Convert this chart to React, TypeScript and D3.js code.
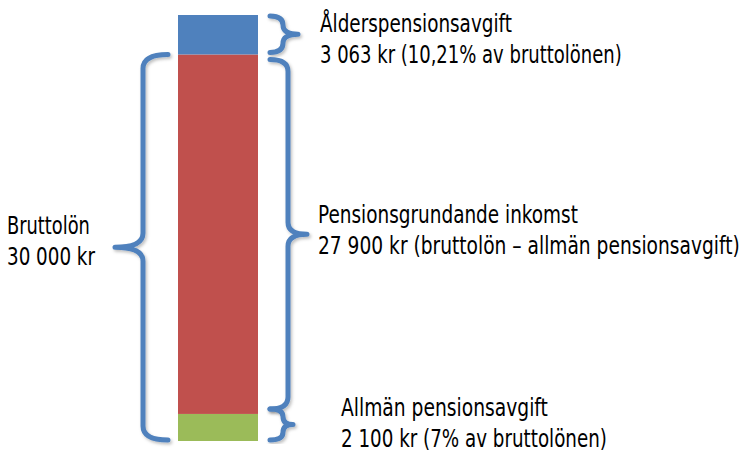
import React, { useLayoutEffect, useRef, useState } from 'react';
import * as d3 from 'd3';

// stacked segments, bottom to top
const segments = ['Allmän pensionsavgift', 'Pensionsgrundande inkomst', 'Ålderspensionsavgift'];
const amounts = [2100, 27900, 3063];
const colors = ['#9BBB59', '#C0504D', '#4F81BD'];
const grossSalary = 30000;

const labelLines = [
  ['Ålderspensionsavgift', '3 063 kr (10,21% av bruttolönen)'],
  ['Pensionsgrundande inkomst', '27 900 kr (bruttolön – allmän pensionsavgift)'],
  ['Allmän pensionsavgift', '2 100 kr (7% av bruttolönen)'],
  ['Bruttolön', '30 000 kr'],
];

const width = 747;
const height = 452;
const braceColor = '#4F81BD';
const font = '"DejaVu Sans Condensed", "DejaVu Sans", sans-serif';

// curly brace, ends at xEnd, spine at xv, tip at xTip
const bracePath = (xEnd: number, xv: number, xTip: number, y0: number, y1: number, r: number) => {
  const ym = (y0 + y1) / 2;
  const rr = Math.min(r, (y1 - y0) / 4);
  return [
    `M${xEnd},${y0}`,
    `Q${xv},${y0} ${xv},${y0 + rr}`,
    `L${xv},${ym - rr}`,
    `Q${xv},${ym} ${xTip},${ym}`,
    `M${xTip},${ym}`,
    `Q${xv},${ym} ${xv},${ym + rr}`,
    `L${xv},${y1 - rr}`,
    `Q${xv},${y1} ${xEnd},${y1}`,
  ].join(' ');
};

// squeezes a line of text horizontally to a given width
const FitText = ({ x, y, w, children }: { x: number; y: number; w: number; children: string }) => {
  const ref = useRef<SVGTextElement>(null);
  const [sx, setSx] = useState(1);
  useLayoutEffect(() => {
    if (ref.current) {
      const len = ref.current.getComputedTextLength();
      if (len > 0) setSx(w / len);
    }
  }, [w, children]);
  return (
    <text ref={ref} transform={`translate(${x},${y}) scale(${sx},1)`}>
      {children}
    </text>
  );
};

const App = () => {
  const total = d3.sum(amounts);
  const y = d3.scaleLinear().domain([0, total]).range([441, 15]);
  const x = d3.scaleBand().domain(['lön']).range([178, 258]).padding(0);

  const stacked = d3.stack<any>().keys(segments)([
    Object.fromEntries(segments.map((s, i) => [s, amounts[i]])),
  ]);

  const bx = x('lön') as number;
  const bw = x.bandwidth();

  const braces = [
    // blue
    bracePath(270, 283, 298, y(total) + 1, y(grossSalary) - 2, 10),
    // red
    bracePath(270, 288, 307, y(grossSalary) + 5, y(amounts[0]) - 5, 12),
    // green
    bracePath(270, 283, 293, y(amounts[0]) - 5, y(0) - 1, 10),
    // left, whole salary
    bracePath(168, 143, 115, y(grossSalary), y(0) - 1, 14),
  ];

  const texts = [
    { x: 320, y: 32, lines: labelLines[0], widths: [192, 302] },
    { x: 318, y: 223, lines: labelLines[1], widths: [260, 422] },
    { x: 341, y: 416, lines: labelLines[2], widths: [207, 266] },
    { x: 7, y: 234, lines: labelLines[3], widths: [83, 88] },
  ];

  return (
    <svg width={width} height={height} style={{ position: 'absolute', left: 0, top: 0, background: '#fff' }}>
      <defs>
        <filter id="sh" x="-50%" y="-10%" width="200%" height="120%">
          <feDropShadow dx="1.5" dy="2" stdDeviation="1.5" floodColor="#000" floodOpacity="0.25" />
        </filter>
      </defs>
      {stacked.map((s, i) => (
        <rect
          key={s.key}
          x={bx}
          width={bw}
          y={y(s[0][1])}
          height={y(s[0][0]) - y(s[0][1])}
          fill={colors[i]}
        />
      ))}
      {braces.map((d, i) => (
        <path
          key={i}
          d={d}
          fill="none"
          stroke={braceColor}
          strokeWidth={5}
          strokeLinecap="round"
          strokeLinejoin="round"
          filter="url(#sh)"
        />
      ))}
      {texts.map((t, i) => (
        <g key={i} fontFamily={font} fontSize={24} fill="#000" style={{ fontStretch: 'condensed' }}>
          {t.lines.map((line, j) => (
            <FitText key={j} x={t.x} y={t.y + j * 31} w={t.widths[j]}>
              {line}
            </FitText>
          ))}
        </g>
      ))}
    </svg>
  );
};

export default App;
